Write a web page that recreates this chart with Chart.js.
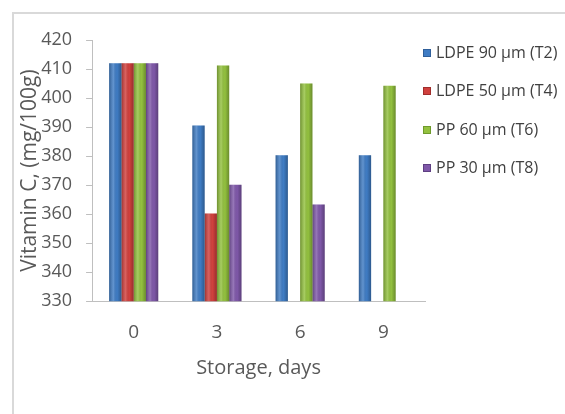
<!DOCTYPE html>
<html>
<head>
<meta charset="utf-8">
<script src="https://cdn.jsdelivr.net/npm/chart.js@4/dist/chart.umd.min.js"></script>
<style>
  body { margin: 0; background: #fff; }
  #wrap { position: relative; width: 565px; height: 414px; }
  #frame { position: absolute; left: 12px; top: 12px; right: 0; bottom: 0;
           border-left: 2px solid #d9d9d9; border-top: 2px solid #d9d9d9; }
  #myChart { position: absolute; left: 0; top: 0; }
  #legend { position: absolute; left: 423px; top: 42px; font-family: 'Open Sans', sans-serif;
            font-size: 16px; color: #404040; }
  #legend div { height: 38.3px; line-height: 20px; white-space: nowrap; }
  #legend span { display: inline-block; width: 8px; height: 8px; margin-right: 5px;
                 vertical-align: 1px; }
</style>
</head>
<body>
<div id="wrap">
  <div id="frame"></div>
  <canvas id="myChart" width="565" height="414"></canvas>
  <div id="legend"></div>
</div>
<script>
// storage days
const days = ['0', '3', '6', '9'];

// vitamin C, mg/100g (null = no bar)
const ldpe90 = [412, 390.5, 380.3, 380.3];
const ldpe50 = [412, 360.2, null, null];
const pp60 = [412, 411.2, 405, 404.2];
const pp30 = [412, 370.1, 363.3, null];

const seriesNames = ['LDPE 90 µm (T2)', 'LDPE 50 µm (T4)', 'PP 60 µm (T6)', 'PP 30 µm (T8)'];
const seriesColors = ['#3f7cc4', '#d0403d', '#93c13f', '#7f58a9'];
const borderColors = ['#2f5f9a', '#a02e2c', '#6f9a2c', '#5e3f82'];

const yMin = 330;
const yMax = 420;
const yStep = 10;

const allSeries = [ldpe90, ldpe50, pp60, pp30];
const textColor = '#595959';
const fontFam = "'Open Sans', sans-serif";

// legend as html, from the same arrays
const legendBox = document.getElementById('legend');
seriesNames.forEach((name, i) => {
    const row = document.createElement('div');
    const sw = document.createElement('span');
    sw.style.background = seriesColors[i];
    sw.style.border = '1px solid ' + borderColors[i];
    sw.style.boxSizing = 'border-box';
    row.appendChild(sw);
    row.appendChild(document.createTextNode(name));
    legendBox.appendChild(row);
});

// cylinder-ish shading on top of each bar (like the excel look)
const barShade = {
    id: 'barShade',
    afterDatasetsDraw(chart) {
        const c = chart.ctx;
        const area = chart.chartArea;
        c.save();
        c.beginPath();
        c.rect(area.left, area.top, area.right - area.left, area.bottom - area.top);
        c.clip();
        chart.data.datasets.forEach((ds, i) => {
            chart.getDatasetMeta(i).data.forEach((bar, j) => {
                if (ds.data[j] == null) return;
                const left = bar.x - bar.width / 2;
                const bottom = Math.min(bar.base, area.bottom);
                const g = c.createLinearGradient(left, 0, left + bar.width, 0);
                g.addColorStop(0, 'rgba(0,0,0,0.25)');
                g.addColorStop(0.35, 'rgba(255,255,255,0.18)');
                g.addColorStop(0.65, 'rgba(0,0,0,0)');
                g.addColorStop(1, 'rgba(0,0,0,0.28)');
                c.fillStyle = g;
                c.fillRect(left, bar.y, bar.width, bottom - bar.y);
            });
        });
        c.restore();
    }
};

var ctx = document.getElementById('myChart').getContext('2d');
var myChart = new Chart(ctx, {
    type: 'bar',
    data: {
        labels: days,
        datasets: allSeries.map((vals, i) => ({
            label: seriesNames[i],
            data: vals,
            backgroundColor: seriesColors[i],
            borderColor: borderColors[i],
            borderWidth: 0,
            categoryPercentage: 0.59,
            barPercentage: 1
        }))
    },
    plugins: [barShade],
    options: {
        responsive: false,
        animation: false,
        layout: {
            padding: { left: 17, top: 40, right: 140, bottom: 34 }
        },
        plugins: {
            tooltip: { enabled: false },
            legend: { display: false }
        },
        scales: {
            x: {
                grid: { display: true, drawOnChartArea: false, drawTicks: false },
                border: { color: '#bfbfbf', width: 1 },
                ticks: { color: textColor, padding: 20, font: { family: fontFam, size: 19 } },
                title: {
                    display: true,
                    text: 'Storage, days',
                    color: textColor,
                    padding: { top: -8, bottom: 0 },
                    font: { family: fontFam, size: 20 }
                }
            },
            y: {
                min: yMin,
                max: yMax,
                grid: { drawOnChartArea: false, drawTicks: true, tickLength: 6, color: '#bfbfbf' },
                border: { color: '#bfbfbf', width: 1 },
                ticks: { stepSize: yStep, color: textColor, padding: 14, font: { family: fontFam, size: 18 } },
                title: {
                    display: true,
                    text: 'Vitamin C, (mg/100g)',
                    color: textColor,
                    padding: { top: 0, bottom: -15 },
                    font: { family: fontFam, size: 21 }
                }
            }
        }
    }
});
</script>
</body>
</html>
